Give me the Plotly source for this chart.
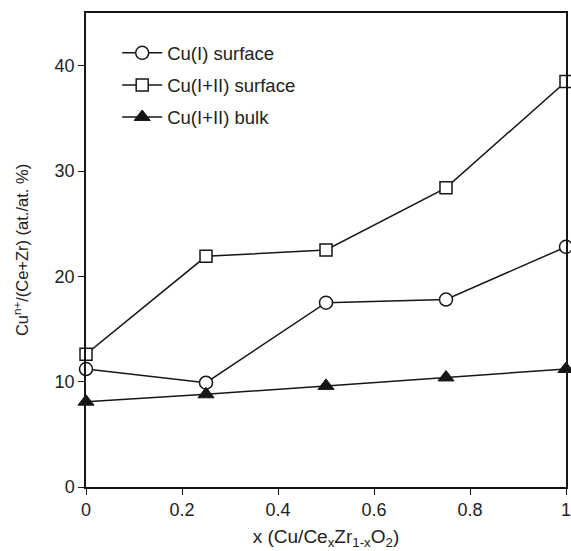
import plotly.graph_objects as go

# Cu content x in Cu/CexZr1-xO2
x_vals = [0, 0.25, 0.5, 0.75, 1.0]

# Cu^n+/(Ce+Zr) atomic ratios (at./at. %)
cu1_surface = [11.2, 9.9, 17.5, 17.8, 22.8]
cu12_surface = [12.6, 21.9, 22.5, 28.4, 38.5]
cu12_bulk = [8.1, 8.8, 9.6, 10.4, 11.2]

series_names = ["Cu(I) surface", "Cu(I+II) surface", "Cu(I+II) bulk"]

x_ticks = [0, 0.2, 0.4, 0.6, 0.8, 1]
x_tick_text = ["0", "0.2", "0.4", "0.6", "0.8", "1"]
y_ticks = [0, 10, 20, 30, 40]

FONT = "Liberation Sans, Arial, sans-serif"
INK = "#161616"
TEXT = "#222222"
LINE = dict(color=INK, width=1.5)

fig = go.Figure()
fig.add_trace(go.Scatter(
    x=x_vals, y=cu1_surface, name=series_names[0], mode="lines+markers",
    line=LINE, cliponaxis=False, legendgroup="a",
    marker=dict(symbol="circle", size=13, color="white",
                line=dict(color=INK, width=1.5)),
))
fig.add_trace(go.Scatter(
    x=x_vals, y=cu12_surface, name=series_names[1], mode="lines+markers",
    line=LINE, cliponaxis=False, legendgroup="b",
    marker=dict(symbol="square", size=12, color="white",
                line=dict(color=INK, width=1.5)),
))
fig.add_trace(go.Scatter(
    x=x_vals, y=cu12_bulk, name=series_names[2], mode="lines+markers",
    line=LINE, cliponaxis=False, legendgroup="c",
    marker=dict(symbol="triangle-up", size=14, color=INK,
                line=dict(color=INK, width=1)),
))

axis_common = dict(
    showline=True, linecolor=INK, linewidth=1.5, mirror=True,
    ticks="outside", ticklen=6, tickwidth=1.2, tickcolor=INK,
    showgrid=False, zeroline=False, automargin=False,
    ticklabeloverflow="allow",
    tickfont=dict(family=FONT, size=18, color=TEXT),
)

fig.update_xaxes(
    range=[0, 1], tickvals=x_ticks, ticktext=x_tick_text,
    title=dict(text="x (Cu/Ce<sub>x</sub>Zr<sub>1-x</sub>O<sub>2</sub>)",
               font=dict(family=FONT, size=19, color=TEXT), standoff=10),
    **axis_common,
)
fig.update_yaxes(
    range=[0, 45], tickvals=y_ticks,
    title=dict(text="Cu<sup>n+</sup>/(Ce+Zr) (at./at. %)",
               font=dict(family=FONT, size=16.5, color=TEXT), standoff=22),
    **axis_common,
)

fig.update_layout(
    width=571, height=551,
    margin=dict(l=86, r=5, t=13, b=64),
    paper_bgcolor="white", plot_bgcolor="white",
    showlegend=True,
    legend=dict(
        x=0.065, y=0.955, xanchor="left", yanchor="top",
        bgcolor="rgba(0,0,0,0)", borderwidth=0,
        font=dict(family=FONT, size=18.5, color=TEXT),
        traceorder="grouped", tracegroupgap=5,
        itemwidth=40, itemsizing="trace",
    ),
)

fig.write_html("out.html")
